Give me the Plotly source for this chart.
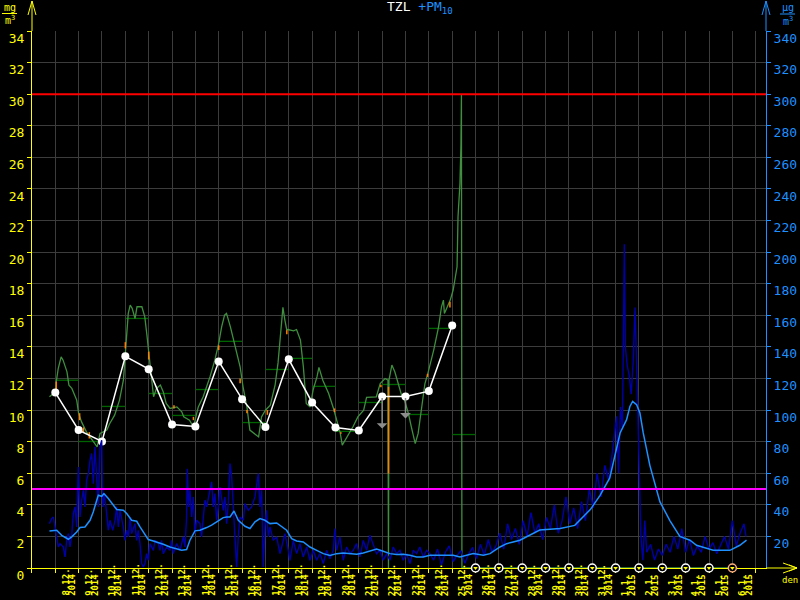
import plotly.graph_objects as go

# ---------------- DATA ----------------
# time axis in hours since 8.12.2014 00:00
DATE_LABELS = ["8.12.", "9.12.", "10.12.", "11.12.", "12.12.", "13.12.", "14.12.", "15.12.",
               "16.12.", "17.12.", "18.12.", "19.12.", "20.12.", "21.12.", "22.12.", "23.12.",
               "24.12.", "25.12.", "26.12.", "27.12.", "28.12.", "29.12.", "30.12.", "31.12.",
               "1.1.", "2.1.", "3.1.", "4.1.", "5.1.", "6.1."]
YEAR_LABELS = ["2014"] * 24 + ["2015"] * 6

# TZL hourly (mg/m3): (hour, value)
TZL_HOURLY = [(-6, 10.84), (0, 11.15), (1, 11.79), (3, 12.63), (6, 13.37), (8, 13.16), (12, 12.42),
              (14, 11.58), (17, 11.37), (22, 10.63), (24, 9.78), (27, 9.25), (32, 8.62), (37, 8.2),
              (41, 7.88), (43, 7.67), (46, 8.52), (49, 8.62), (53, 8.73), (56, 9.15), (61, 9.68),
              (66, 10.63), (70, 11.89), (73, 14.43), (75, 16.12), (77, 16.65), (79, 16.44), (82, 15.8),
              (84, 16.54), (89, 16.54), (92, 15.9), (94, 14.85), (96, 13.59), (99, 11.89), (101, 10.84),
              (104, 11.37), (108, 11.58), (111, 11.15), (114, 10.42), (118, 10.10), (125, 10.20),
              (130, 9.89), (132, 9.57), (138, 9.36), (142, 8.94), (147, 10.20), (152, 10.84),
              (159, 12.1), (164, 13.16), (168, 14.22), (171, 15.27), (174, 16.01), (176, 16.12),
              (180, 15.27), (185, 14.0), (190, 12.74), (193, 11.47), (197, 10.2), (200, 8.73),
              (204, 8.52), (209, 8.30), (212, 9.57), (216, 9.99), (221, 10.31), (226, 11.6),
              (229, 13.0), (231, 14.5), (233, 16.0), (234, 16.5), (236, 15.7), (238, 15.06),
              (239, 15.1), (245, 15.02), (248, 15.1), (252, 14.43), (255, 12.74), (258, 10.42),
              (262, 10.2), (265, 11.26), (269, 12.1), (271, 12.7), (275, 11.89), (281, 11.05),
              (286, 10.1), (289, 9.36), (293, 8.52), (295, 7.78), (300, 8.3), (306, 8.94),
              (311, 9.57), (317, 9.99), (320, 10.8), (330, 10.84), (334, 11.68), (339, 12.0),
              (342, 11.89), (342.5, 0), (343, 11.9), (346, 12.85), (349, 12.42), (353, 11.47),
              (356, 10.94), (359, 10.63), (363, 9.78), (366, 8.94), (370, 7.88), (373, 8.52),
              (377, 10.2), (380, 11.68), (383, 12.32), (389, 13.8), (394, 15.27), (397, 16.54),
              (399, 16.96), (400, 16.12), (406, 16.96), (409, 17.6), (413, 19.07), (414, 22.24),
              (416, 24.36), (417, 26.79), (417.5, 29.95), (418, 0), (693, 0)]

# orange flagged pieces of the TZL line: (hour, from, to)
TZL_FLAGGED = [(1, 11.2, 11.8), (25, 9.8, 9.36), (29, 8.9, 8.6), (35, 8.6, 8.2), (72, 14.3, 13.9),
               (96, 13.7, 13.2), (122, 10.3, 10.1), (142, 9.57, 9.36), (168, 14.1, 13.8),
               (190, 12.0, 11.7), (197, 10.0, 9.8), (218, 10.0, 9.7), (238, 15.06, 14.8),
               (287, 10.1, 9.87), (293.6, 8.6, 8.5), (334.7, 11.6, 11.45), (342.5, 11.47, 5.98),
               (382.7, 12.3, 12.1), (405.7, 16.85, 16.5)]
TZL_FLAGGED_ZERO = [(693, 701)]

# TZL daily means (mg/m3)
TZL_DAY_MEAN = [11.89, 8.01, 10.23, 15.80, 11.05, 9.66, 11.3, 14.35, 9.21, 12.57,
                13.27, 11.50, 8.65, 10.48, 11.62, 9.72, 15.17, 8.45]
# TZL daily points (white) at day start
TZL_DAY_POINT = [11.11, 8.73, 8.01, 13.40, 12.59, 9.09, 8.96, 13.08, 10.69, 8.92,
                 13.21, 10.48, 8.90, 8.71, 10.86, 10.86, 11.20, 15.36]
# downward corrections (grey arrows): (day, to value)
TZL_CORRECTIONS = [(14, 8.83), (15, 9.47)]
# days without TZL data
TZL_MISSING_DAYS = [18, 19, 20, 21, 22, 23, 24, 25, 26, 27, 28, 29]

# PM10 hourly (ug/m3): (hour, value)
PM10_HOURLY = [(-6.1, 28.1), (-3.7, 31.3), (-2.0, 32.3), (-0.3, 26.0), (1.4, 17.5), (3.1, 13.3),
               (4.8, 15.4), (8.3, 13.3), (10.0, 7.0), (11.7, 17.5), (13.4, 21.8), (15.1, 13.3),
               (16.8, 19.7), (18.5, 34.4), (20.3, 38.7), (22.0, 26.0), (23.7, 64.0), (25.4, 32.3),
               (27.1, 42.9), (28.8, 49.2), (30.5, 38.7), (32.2, 55.6), (34.0, 59.8), (35.7, 68.2),
               (37.4, 72.5), (39.1, 53.4), (40.8, 76.7), (42.5, 59.8), (44.2, 38.7), (45.9, 76.7),
               (47.7, 80.9), (48.7, 38.7), (50.1, 47.1), (52.1, 38.7), (54.5, 23.9), (56.2, 30.2),
               (59.0, 23.9), (61.4, 30.2), (63.1, 38.7), (64.8, 26.0), (66.5, 36.5), (69.9, 26.0),
               (71.6, 17.5), (73.4, 23.9), (75.1, 19.7), (76.8, 32.3), (78.5, 21.8), (81.9, 28.1),
               (83.6, 17.5), (85.3, 23.9), (87.1, 15.4), (88.8, 2.8), (90.5, 0.7), (92.2, 2.8),
               (93.9, 9.1), (95.6, 4.9), (97.3, 15.4), (100.8, 11.2), (102.5, 17.5), (105.9, 15.4),
               (107.6, 11.2), (109.3, 17.5), (111.0, 9.1), (114.5, 13.3), (117.9, 11.2),
               (119.6, 17.5), (121.3, 9.1), (124.7, 15.4), (128.2, 11.2), (131.6, 19.7),
               (133.3, 13.3), (135.0, 32.3), (135.7, 62.9), (137.1, 38.7), (138.4, 49.2),
               (140.2, 32.3), (141.9, 45.0), (143.6, 21.8), (145.3, 30.2), (148.7, 28.1),
               (150.4, 19.7), (152.2, 32.3), (153.9, 42.9), (155.6, 38.7), (159.0, 49.2),
               (160.7, 54.5), (162.4, 38.7), (164.1, 47.1), (165.9, 30.2), (167.6, 38.7),
               (169.3, 51.3), (172.7, 36.5), (174.4, 45.0), (176.1, 28.1), (177.8, 40.8),
               (179.6, 66.1), (181.3, 57.7), (183.0, 38.7), (184.7, 19.7), (186.4, 0.7),
               (188.1, 19.7), (189.8, 32.3), (193.3, 30.2), (195.0, 40.8), (198.4, 36.5),
               (201.8, 38.7), (205.3, 45.0), (207.0, 51.3), (208.7, 59.8), (210.4, 38.7),
               (212.1, 49.2), (213.8, 0.7), (215.5, 26.0), (217.2, 36.5), (219.0, 19.7),
               (220.7, 26.0), (224.1, 17.5), (227.5, 19.7), (231.0, 9.1), (232.7, 13.3),
               (236.1, 21.8), (239.5, 11.2), (241.2, 4.9), (244.7, 17.5), (248.1, 9.1),
               (251.5, 15.4), (254.9, 7.0), (258.4, 13.3), (261.8, 4.9), (265.2, 11.2),
               (268.6, 4.9), (272.1, 9.1), (275.5, 2.8), (278.9, 11.2), (282.3, 5.9), (285.8, 11.2),
               (287.5, 24.9), (289.2, 11.2), (292.6, 19.7), (296.0, 4.9), (299.5, 13.3),
               (302.9, 9.1), (306.3, 11.2), (309.7, 15.4), (313.2, 7.0), (316.6, 17.5),
               (320.0, 11.2), (323.4, 20.7), (326.9, 15.4), (330.3, 9.1), (333.7, 11.2),
               (337.2, 4.9), (340.6, 9.1), (344.0, 4.9), (347.4, 13.3), (350.9, 9.1), (354.3, 11.2),
               (357.7, 4.9), (361.1, 9.1), (364.6, 2.8), (368.0, 11.2), (371.4, 9.1), (374.8, 13.3),
               (378.3, 7.0), (381.7, 11.2), (385.1, 9.1), (389, 5), (393, 12), (397, 2), (401, 10),
               (405, 14), (409, 4), (413, 8), (417, 11), (421, 3), (425, 9), (429, 13), (433, 6),
               (437, 15), (441, 8), (445, 18), (449, 10), (453, 14), (457, 22), (461, 12), (465, 28),
               (469, 18), (473, 25), (477, 15), (481, 30), (485, 20), (489, 35), (493, 22), (497, 28),
               (501, 18), (505, 32), (509, 25), (513, 40), (517, 22), (521, 30), (525, 45), (529, 28),
               (533, 38), (537, 25), (541, 42), (545, 30), (549, 50), (553, 38), (557, 60), (561, 45),
               (565, 65), (569, 55), (573, 75), (577, 96), (579, 60), (581, 102), (583, 89),
               (585, 205), (586, 140), (588, 128), (590, 122), (592, 110), (594, 130), (596, 165),
               (598, 120), (600, 60), (602, 20), (604, 5), (606, 30), (608, 10), (612, 15), (616, 5),
               (620, 12), (624, 8), (628, 15), (632, 10), (636, 20), (640, 12), (644, 25), (648, 10),
               (652, 18), (656, 8), (660, 14), (664, 10), (668, 20), (672, 12), (676, 16), (680, 9),
               (684, 14), (688, 20), (692, 12), (696, 30), (700, 14), (704, 22), (708, 28), (710, 20)]

# PM10 running mean (ug/m3): (hour, value)
PM10_MEAN = [(-6, 23.5), (1.4, 23.9), (6.6, 20.7), (13.4, 18.2), (16.9, 19.7), (22, 22.8),
             (25.4, 25.6), (30.5, 26.0), (35.7, 30.2), (39, 35.5), (42.6, 42.9), (44.2, 46.1),
             (47.7, 45.4), (50, 47.1), (54.5, 44.0), (59.6, 39.7), (63.1, 37.0), (69.9, 36.6),
             (73.4, 34.5), (78.5, 30.2), (83.7, 29.6), (87.1, 26.0), (92.2, 20.7), (95.6, 18.0),
             (100.7, 17.1), (105.9, 15.8), (111, 15.0), (117.9, 13.3), (123, 12.3), (129.9, 11.2),
             (135, 11.7), (138.4, 17.6), (143.6, 23.5), (148.7, 23.9), (155.6, 25.6), (160.7, 27.1),
             (167.5, 29.8), (172.7, 31.9), (176.1, 32.3), (179.6, 32.3), (183.7, 36.1),
             (188.1, 30.2), (195, 26.4), (200.1, 25.0), (205.3, 29.2), (210.4, 31.3), (215.5, 30.2),
             (220.7, 28.1), (227.6, 28.5), (232.7, 26.4), (237.8, 23.9), (243, 18.6), (248.1, 17.1),
             (254.9, 16.5), (261.8, 13.3), (268.7, 11.2), (275.5, 9.1), (282.3, 8.0), (289.2, 9.1),
             (296, 9.5), (302.9, 9.1), (309.8, 8.7), (316.6, 9.5), (323.4, 10.6), (330.3, 12.0),
             (337.1, 10.6), (344, 9.1), (350.9, 8.5), (357.7, 8.7), (364.5, 8.0), (371.4, 7.0),
             (378.2, 7.0), (385.1, 8.0), (392, 8.1), (409, 8.1), (416, 7.0), (429.6, 9.1),
             (440, 8.1), (446.9, 9.1), (457.1, 13.3), (464, 15.4), (470.7, 16.5), (477.6, 17.6),
             (498, 24), (519, 25), (534, 27), (550, 37), (560, 46), (570, 57), (580.6, 85.5),
             (587.3, 93.9), (590.7, 102.3), (593.5, 105.5), (597.6, 103.4), (601, 98.1),
             (604.4, 85.5), (611.2, 65), (621.5, 42), (631.8, 30), (642, 20), (652.4, 17.6),
             (659.2, 14.4), (676.3, 11.2), (693.5, 11.2), (703.7, 14.4), (710.6, 17.6)]

TZL_LIMIT = 30      # mg/m3 (red)
PM10_LIMIT = 50     # ug/m3 (magenta)

# ---------------- STYLE / LAYOUT ----------------
YELLOW = "#ffff00"
BLUE = "#1e90ff"
GRID = "#3c3c3c"
FONT = "DejaVu Sans Mono"
L, R, T, B = 32, 766, 31, 568          # plot area in pixels
X_RANGE = [-23.95, 730.6]


def pxx(px):
    return (px - L) / (R - L)


def pxy(py):
    return (B - py) / (B - T)


fig = go.Figure()

# PM10 hourly
fig.add_trace(go.Scatter(x=[p[0] for p in PM10_HOURLY], y=[p[1] for p in PM10_HOURLY],
                         yaxis="y2", mode="lines", line=dict(color="#0000a8", width=1.4),
                         hoverinfo="skip"))
# PM10 running mean
fig.add_trace(go.Scatter(x=[p[0] for p in PM10_MEAN], y=[p[1] for p in PM10_MEAN],
                         yaxis="y2", mode="lines", line=dict(color=BLUE, width=1.5),
                         hoverinfo="skip"))

# daily mean segments
seg_x, seg_y = [], []
for d, v in enumerate(TZL_DAY_MEAN):
    seg_x += [24 * d, 24 * (d + 1), None]
    seg_y += [v, v, None]
fig.add_trace(go.Scatter(x=seg_x, y=seg_y, mode="lines", line=dict(color="#006400", width=1.3),
                         hoverinfo="skip"))

# TZL hourly line
fig.add_trace(go.Scatter(x=[p[0] for p in TZL_HOURLY], y=[p[1] for p in TZL_HOURLY],
                         mode="lines", line=dict(color="#3f8f3f", width=1.3), hoverinfo="skip"))

# flagged (orange) pieces
fx, fy = [], []
for h, a, b in TZL_FLAGGED:
    fx += [h, h, None]
    fy += [a, b, None]
for h0, h1 in TZL_FLAGGED_ZERO:
    fx += [h0, h1, None]
    fy += [0, 0, None]
fig.add_trace(go.Scatter(x=fx, y=fy, mode="lines", line=dict(color="#ff8000", width=1.5),
                         hoverinfo="skip"))

# daily points
fig.add_trace(go.Scatter(x=[24 * d for d in range(len(TZL_DAY_POINT))], y=TZL_DAY_POINT,
                         mode="lines+markers", line=dict(color="white", width=1.5),
                         marker=dict(color="white", size=8), hoverinfo="skip"))

# missing-day markers on the axis
fig.add_trace(go.Scatter(x=[24 * d for d in TZL_MISSING_DAYS], y=[0] * len(TZL_MISSING_DAYS),
                         mode="markers", cliponaxis=False,
                         marker=dict(color="black", size=8,
                                     line=dict(color=["white"] * (len(TZL_MISSING_DAYS) - 1) + ["#ffb080"],
                                               width=1.5)),
                         hoverinfo="skip"))
fig.add_trace(go.Scatter(x=[24 * d for d in TZL_MISSING_DAYS], y=[0] * len(TZL_MISSING_DAYS),
                         mode="markers", cliponaxis=False,
                         marker=dict(color=YELLOW, size=4, symbol="triangle-down"),
                         hoverinfo="skip"))

annotations = []
# grey correction arrows
for d, v in TZL_CORRECTIONS:
    annotations.append(dict(x=24 * d, y=v, ax=24 * d, ay=TZL_DAY_POINT[d], xref="x", yref="y",
                            axref="x", ayref="y", showarrow=True, arrowhead=1, arrowsize=1.2,
                            arrowwidth=1.5, arrowcolor="#8c8c8c", text=""))

# date labels
for d, (lab, yr) in enumerate(zip(DATE_LABELS, YEAR_LABELS)):
    annotations.append(dict(x=24 * d + 10, y=pxy(598), xref="x", yref="paper",
                            text="<b>%s</b>" % lab,
                            textangle=-90, showarrow=False, xanchor="center", yanchor="bottom",
                            font=dict(family=FONT, size=9, color=YELLOW)))
    annotations.append(dict(x=24 * d + 16.8, y=pxy(598), xref="x", yref="paper",
                            text="<b>%s</b>" % yr,
                            textangle=-90, showarrow=False, xanchor="center", yanchor="bottom",
                            font=dict(family=FONT, size=9, color=YELLOW)))

# title
annotations.append(dict(x=pxx(420), y=pxy(8), xref="paper", yref="paper", showarrow=False,
                        text="TZL <span style='color:%s'>+PM<sub>10</sub></span>" % BLUE,
                        font=dict(family=FONT, size=13, color="white"),
                        xanchor="center", yanchor="middle"))
# units
annotations += [
    dict(x=pxx(9.5), y=pxy(7.5), xref="paper", yref="paper", showarrow=False, text="mg",
         font=dict(family=FONT, size=10, color=YELLOW), xanchor="center", yanchor="middle"),
    dict(x=pxx(9.5), y=pxy(20), xref="paper", yref="paper", showarrow=False, text="m<sup>3</sup>",
         font=dict(family=FONT, size=10, color=YELLOW), xanchor="center", yanchor="middle"),
    dict(x=pxx(788), y=pxy(8), xref="paper", yref="paper", showarrow=False, text="µg",
         font=dict(family=FONT, size=10, color=BLUE), xanchor="center", yanchor="middle"),
    dict(x=pxx(788), y=pxy(20.5), xref="paper", yref="paper", showarrow=False, text="m<sup>3</sup>",
         font=dict(family=FONT, size=10, color=BLUE), xanchor="center", yanchor="middle"),
    dict(x=pxx(790), y=pxy(580), xref="paper", yref="paper", showarrow=False, text="den",
         font=dict(family=FONT, size=9, color=YELLOW), xanchor="center", yanchor="middle"),
]

shapes = [
    # limits
    dict(type="line", xref="paper", x0=0, x1=1, yref="y", y0=TZL_LIMIT, y1=TZL_LIMIT,
         line=dict(color="#ff0000", width=2)),
    dict(type="line", xref="paper", x0=0, x1=1, yref="y2", y0=PM10_LIMIT, y1=PM10_LIMIT,
         line=dict(color="#ff00ff", width=2)),
    # axis extensions + arrowheads
    dict(type="line", xref="paper", yref="paper", x0=0, x1=0, y0=1, y1=pxy(1),
         line=dict(color=YELLOW, width=1)),
    dict(type="path", xref="paper", yref="paper",
         path="M %f,%f L %f,%f L %f,%f" % (pxx(28), pxy(15), pxx(32), pxy(1), pxx(36), pxy(15)),
         line=dict(color=YELLOW, width=1)),
    dict(type="line", xref="paper", yref="paper", x0=1, x1=1, y0=1, y1=pxy(1),
         line=dict(color=BLUE, width=1)),
    dict(type="path", xref="paper", yref="paper",
         path="M %f,%f L %f,%f L %f,%f" % (pxx(762), pxy(15), pxx(766), pxy(1), pxx(770), pxy(15)),
         line=dict(color=BLUE, width=1)),
    dict(type="line", xref="paper", yref="paper", x0=1, x1=pxx(797), y0=0, y1=0,
         line=dict(color=YELLOW, width=1)),
    dict(type="path", xref="paper", yref="paper",
         path="M %f,%f L %f,%f L %f,%f" % (pxx(783), pxy(563), pxx(797), pxy(568), pxx(783), pxy(573)),
         line=dict(color=YELLOW, width=1)),
    dict(type="path", xref="paper", yref="paper",
         path="M %f,%f L %f,%f L %f,%f" % (pxx(789), pxy(565), pxx(797), pxy(568), pxx(789), pxy(571)),
         line=dict(color=YELLOW, width=1)),
    # unit fraction bars
    dict(type="line", xref="paper", yref="paper", x0=pxx(2), x1=pxx(17), y0=pxy(13.5), y1=pxy(13.5),
         line=dict(color=YELLOW, width=1)),
    dict(type="line", xref="paper", yref="paper", x0=pxx(780), x1=pxx(795), y0=pxy(14), y1=pxy(14),
         line=dict(color=BLUE, width=1)),
]

fig.update_layout(
    template="none",
    width=800, height=600, autosize=False,
    margin=dict(l=L, r=800 - R, t=T, b=600 - B, pad=0),
    paper_bgcolor="black", plot_bgcolor="black",
    showlegend=False,
    xaxis=dict(range=X_RANGE, tick0=0, dtick=24, showgrid=True, gridcolor=GRID, gridwidth=1,
               showticklabels=False, ticks="outside", ticklen=4, tickcolor=YELLOW,
               showline=True, linecolor=YELLOW, linewidth=1, zeroline=False,
               automargin=False, layer="below traces"),
    yaxis=dict(range=[0, 34], tick0=0, dtick=2, showgrid=True, gridcolor=GRID, gridwidth=1,
               ticks="outside", ticklen=4, tickcolor=YELLOW, showline=True, linecolor=YELLOW,
               linewidth=1, zeroline=False, automargin=False, ticklabelshift=7,
               tickfont=dict(family=FONT, size=13, color=YELLOW)),
    yaxis2=dict(range=[0, 340], overlaying="y", side="right",
                tickvals=list(range(20, 341, 20)), showgrid=False,
                ticks="outside", ticklen=4, tickcolor=BLUE, showline=True, linecolor=BLUE,
                linewidth=1, zeroline=False, automargin=False, ticklabelshift=7,
                tickfont=dict(family=FONT, size=13, color=BLUE)),
    annotations=annotations,
    shapes=shapes,
)

fig.write_html("out.html", config={"displayModeBar": False},
               post_script="document.body.style.margin='0px';document.body.style.background='black';")
